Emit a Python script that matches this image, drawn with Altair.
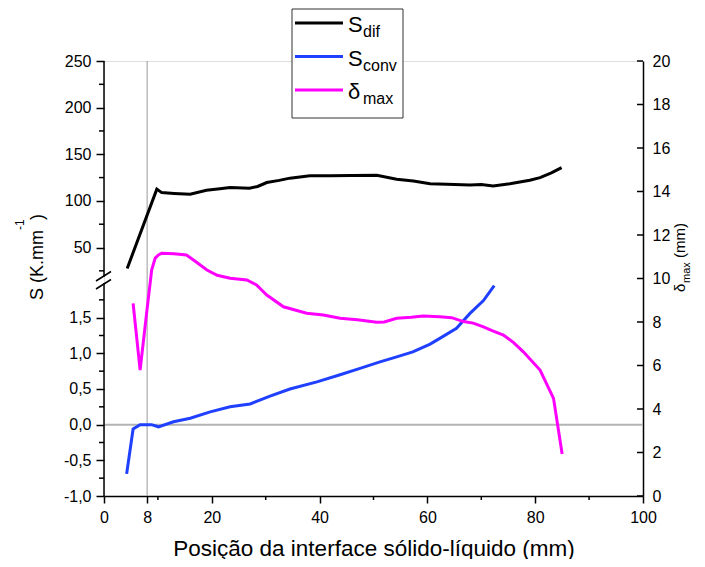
import json
import altair as alt
import pandas as pd

F = "Liberation Sans"

# ---------------- data ----------------
sdif_x = [4.3, 9.8, 10.7, 13, 16, 19, 21.5, 23.4, 27, 28.5, 30.2, 32.5, 34.5, 38.2,
          41.9, 46, 50.6, 54.3, 57.4, 60.5, 63.6, 67.9, 70, 72.2, 75.3, 79, 80.9, 83, 84.9]
sdif_y = [27.5, 112.6, 108.9, 108, 107.2, 111.5, 113, 114.3, 113.6, 115.5, 119.7, 122, 124.4, 127,
          127, 127.3, 127.5, 123.2, 121.4, 118.5, 117.8, 117.1, 117.5, 116, 118.5, 122.2, 125, 130, 135.7]

sconv_x = [4.2, 5.4, 6.7, 8.8, 10.1, 12.9, 16, 19.7, 23.4, 27.1, 30.8, 34.5, 39.5, 43.8,
           47.5, 51.2, 54.3, 57.3, 60.5, 62.3, 65.4, 67.9, 70.4, 72.4]
sconv_y = [-0.69, -0.06, 0.0, 0.0, -0.03, 0.04, 0.09, 0.18, 0.25, 0.29, 0.40, 0.50, 0.60, 0.70,
           0.79, 0.88, 0.95, 1.02, 1.13, 1.21, 1.35, 1.56, 1.74, 1.95]

dmax_x = [5.4, 6.7, 7.9, 8.85, 9.5, 10.1, 10.7, 13, 15.3, 16.6, 19.1, 21, 23.4, 26.5, 28.3, 30.2,
          33.3, 37.6, 40.7, 43.8, 47, 50.6, 52, 54.3, 57, 59.2, 62.3, 64.5, 66.7, 68.5, 70.4, 72,
          74.1, 76, 77.8, 80.9, 83.4, 85.0]
dmax_y = [8.86, 5.79, 8.40, 10.4, 10.94, 11.08, 11.16, 11.14, 11.08, 10.85, 10.39, 10.15, 10.01,
          9.93, 9.70, 9.24, 8.70, 8.40, 8.32, 8.17, 8.1, 7.99, 8.0, 8.17, 8.22, 8.28, 8.24, 8.2,
          8.02, 7.95, 7.78, 7.6, 7.40, 7.05, 6.63, 5.79, 4.49, 1.93]

series_main = ["S", "S", "δ"]
series_sub = ["dif", "conv", "max"]
series_colors = ["#000000", "#2040ff", "#ff00ff"]

x_ticks = [0, 8, 20, 40, 60, 80, 100]
x_minor = [10, 30, 50, 70, 90]
up_ticks = [50, 100, 150, 200, 250]
up_minor = [25, 75, 125, 175, 225]
low_ticks = [-1.0, -0.5, 0.0, 0.5, 1.0, 1.5]
low_labels = ["-1,0", "-0,5", "0,0", "0,5", "1,0", "1,5"]
low_minor = [-0.75, -0.25, 0.25, 0.75, 1.25, 1.75]
d_ticks = [0, 2, 4, 6, 8, 10, 12, 14, 16, 18, 20]
ref_x = [8]
ref_y = [0]
up_segment = [18.8, 250]
low_segment = [-1.0, 1.986]

x_title = "Posição da interface sólido-líquido (mm)"

# ---------------- scales ----------------
W, H = 539, 435
XS = alt.Scale(domain=[0, 100], nice=False, zero=False)
UP = alt.Scale(domain=[-216.4, 250], nice=False, zero=False)
LOW = alt.Scale(domain=[-1, 5.098], nice=False, zero=False)
DS = alt.Scale(domain=[0, 20], nice=False, zero=False)

lab = dict(labelFont=F, labelFontSize=16, labelColor="black", labelOverlap=False,
           labelFlush=False, grid=False)

# identical x axis definition on every layer so the shared axis merges cleanly
xaxis = alt.Axis(orient="bottom", values=x_ticks, title=x_title, domainColor="black", domainWidth=1.5,
                 tickColor="black", tickWidth=1.5, tickSize=7, labelPadding=6,
                 titleFont=F, titleFontSize=22.5, titleFontWeight="normal", titleColor="black",
                 titleBaseline="alphabetic", titleY=59, **lab)
up_axis = alt.Axis(orient="left", values=up_ticks, title=None, domain=False, tickColor="black",
                   tickWidth=1.5, tickSize=8, labelPadding=5, **lab)
low_expr = f"{json.dumps(low_labels)}[indexof({json.dumps(low_ticks)}, datum.value)]"
low_axis = alt.Axis(orient="left", values=low_ticks, title=None, domain=False, tickColor="black",
                    tickWidth=1.5, tickSize=8, labelPadding=5, labelExpr=low_expr, **lab)
d_axis = alt.Axis(orient="right", values=d_ticks, title=None, domainColor="black", domainWidth=1.5,
                  ticks=False, labelPadding=9, **lab)


def X(field):
    return alt.X(f"{field}:Q", scale=XS, axis=xaxis)


one = pd.DataFrame({"k": [0]})

# reference lines
vline = alt.Chart(pd.DataFrame({"x": ref_x})).mark_rule(color="#9a9a9a", strokeWidth=1).encode(
    x=X("x"), y=alt.value(0), y2=alt.value(H))
hline = alt.Chart(pd.DataFrame({"y": ref_y})).mark_rule(color="#b4b4b4", strokeWidth=2).encode(
    y=alt.Y("y:Q", scale=LOW, axis=None), x=alt.value(0), x2=alt.value(W))

# data lines
dif = alt.Chart(pd.DataFrame({"x": sdif_x, "y": sdif_y})).mark_line(
    color=series_colors[0], strokeWidth=3).encode(
    x=X("x"), y=alt.Y("y:Q", scale=UP, axis=up_axis))
conv = alt.Chart(pd.DataFrame({"x": sconv_x, "y": sconv_y})).mark_line(
    color=series_colors[1], strokeWidth=3).encode(
    x=X("x"), y=alt.Y("y:Q", scale=LOW, axis=low_axis))
dmx = alt.Chart(pd.DataFrame({"x": dmax_x, "y": dmax_y})).mark_line(
    color=series_colors[2], strokeWidth=3).encode(
    x=X("x"), y=alt.Y("y:Q", scale=DS, axis=d_axis))

# axis decorations
up_seg = alt.Chart(pd.DataFrame({"a": [up_segment[0]], "b": [up_segment[1]]})).mark_rule(
    color="black", strokeWidth=1.5).encode(
    x=alt.value(0), y=alt.Y("a:Q", scale=UP, axis=None), y2="b:Q")
low_seg = alt.Chart(pd.DataFrame({"a": [low_segment[0]], "b": [low_segment[1]]})).mark_rule(
    color="black", strokeWidth=1.5).encode(
    x=alt.value(0), y=alt.Y("a:Q", scale=LOW, axis=None), y2="b:Q")
up_min = alt.Chart(pd.DataFrame({"v": up_minor})).mark_rule(color="black", strokeWidth=1.5).encode(
    y=alt.Y("v:Q", scale=UP, axis=None), x=alt.value(-5), x2=alt.value(0))
low_min = alt.Chart(pd.DataFrame({"v": low_minor})).mark_rule(color="black", strokeWidth=1.5).encode(
    y=alt.Y("v:Q", scale=LOW, axis=None), x=alt.value(-5), x2=alt.value(0))
x_min = alt.Chart(pd.DataFrame({"x": x_minor})).mark_rule(color="black", strokeWidth=1.5).encode(
    x=X("x"), y=alt.value(H), y2=alt.value(H + 4))
d_tk = alt.Chart(pd.DataFrame({"v": d_ticks})).mark_rule(color="black", strokeWidth=1.5).encode(
    y=alt.Y("v:Q", scale=DS, axis=None), x=alt.value(W - 6), x2=alt.value(W))

brk1 = alt.Chart(one).mark_rule(color="black", strokeWidth=1.5).encode(
    x=alt.value(-8), x2=alt.value(7), y=alt.value(220), y2=alt.value(210.5))
brk2 = alt.Chart(one).mark_rule(color="black", strokeWidth=1.5).encode(
    x=alt.value(-8), x2=alt.value(7), y=alt.value(228), y2=alt.value(218.5))


def txt(s, x, y, size, angle=0, color="black"):
    kw = dict(text=s, font=F, fontSize=size, align="left", baseline="alphabetic", color=color)
    if angle:
        kw["angle"] = angle
    return alt.Chart(one).mark_text(**kw).encode(x=alt.value(x), y=alt.value(y))


# left title  S (K.mm^-1)
ltitle = [txt("S (K.mm", -61, 239, 18, 270), txt("-1", -80, 169, 12, 270), txt(")", -61, 159, 18, 270)]
# right title  δmax (mm)
rtitle = [txt("δ", 581, 231, 15, 270), txt("max", 586, 222, 11, 270), txt("(mm)", 581, 197, 15, 270)]

# legend
box = alt.Chart(one).mark_rect(fill="white", stroke="#333333", strokeWidth=1).encode(
    x=alt.value(188), x2=alt.value(299), y=alt.value(-52), y2=alt.value(57))
leg = [box]
for i in range(3):
    yy = -38 + i * 33.5
    leg.append(alt.Chart(one).mark_rule(color=series_colors[i], strokeWidth=3).encode(
        x=alt.value(191), x2=alt.value(239), y=alt.value(yy)))
    leg.append(txt(series_main[i], 244, yy + 9, 22))
    leg.append(txt(series_sub[i], 259, yy + 14, 16))

chart = alt.layer(
    vline, hline, dif, conv, dmx, up_seg, low_seg, up_min, low_min, x_min, d_tk, brk1, brk2,
    *ltitle, *rtitle, *leg
).resolve_scale(y="independent").properties(
    width=W, height=H,
    autosize=alt.AutoSizeParams(type="none"),
    padding={"left": 96, "top": 53, "right": 52, "bottom": 63},
).configure_view(stroke=None).configure(background="white")

chart.save("out.html", embed_options={"renderer": "svg", "actions": False})
